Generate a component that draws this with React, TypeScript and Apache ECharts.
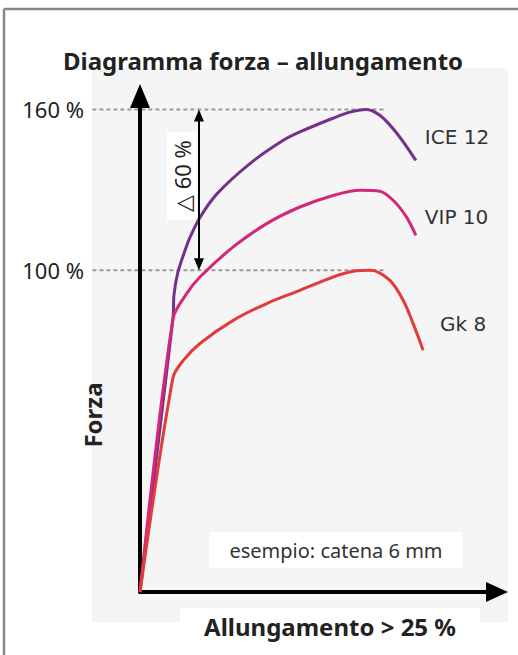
import React, { useEffect, useRef } from "react";
import * as echarts from "echarts";

// ---- data ----
const seriesNames = ["ICE 12", "VIP 10", "Gk 8"];
const seriesColors = ["#74308a", "#d1287a", "#e23b3b"];

const ice12: number[][] = [
  [0, -20], [3.05, 82], [3.14, 90.7], [3.5, 99.2], [4.16, 107.4], [4.62, 112.3],
  [5.54, 119.7], [7.11, 128.5], [10.16, 139.8], [13.21, 148.4], [14.78, 151.6],
  [17.83, 156.7], [19.4, 159], [20.9, 160], [22.17, 157.8], [23.74, 151.1], [25.5, 141],
];
const vip10: number[][] = [
  [0, -20], [3.05, 82], [4.31, 91.3], [5.54, 97.5], [8.62, 108.7], [11.71, 117.4],
  [14.78, 123.6], [17.86, 127.9], [20.33, 129.8], [22.17, 129.5], [23.4, 126.1],
  [24.64, 119.8], [25.5, 113],
];
const gk8: number[][] = [
  [0, -20], [3.05, 60], [4.0, 66.4], [5.54, 72.7], [8.62, 81.3], [11.71, 87.6],
  [14.78, 92.5], [17.86, 97.5], [19.7, 99.6], [21.3, 100], [23.1, 96.2],
  [24.33, 88.8], [25.25, 80.1], [26.17, 70.2],
];

const yTickLabels = [100, 160];
const deltaRange = [100, 160];
const deltaX = 5.45;
const refLineX = [-4.4, 22.8];
const xRange = [0, 33];
const yRange = [-20, 165];

const titleText = "Diagramma forza \u2013 allungamento";
const yName = "Forza";
const xName = "Allungamento > 25 %";
const noteText = "esempio: catena 6 mm";
const deltaText = "\u25B3 60 %";

const FONT = "'Noto Sans', 'DejaVu Sans', sans-serif";
const LABEL_FONT = "'DejaVu Sans', sans-serif";

const GRID = { left: 140, right: 21, top: 96, bottom: 63 };
const HEIGHT = 655;
const ARROW_LEN = 12;

export default function App() {
  const ref = useRef<HTMLDivElement>(null);
  useEffect(() => {
    if (!ref.current) return;
    const chart = echarts.init(ref.current, null, { renderer: "svg" });
    const pxPerUnitY = (HEIGHT - GRID.top - GRID.bottom) / (yRange[1] - yRange[0]);
    const tipShift = ARROW_LEN / 2 / pxPerUnitY;

    const labelOffsets = [[1, -23], [1, -18], [9, -26]];
    const datasets = [ice12, vip10, gk8];

    const series: any[] = datasets.map((d, i) => ({
      type: "line",
      name: seriesNames[i],
      data: d,
      smooth: 0.3,
      showSymbol: false,
      symbol: "none",
      clip: false,
      lineStyle: { color: seriesColors[i], width: 3 },
      z: 3,
      endLabel: {
        show: true,
        formatter: seriesNames[i],
        color: "#333",
        fontFamily: LABEL_FONT,
        fontSize: 20,
        offset: labelOffsets[i],
      },
    }));
    series[1].markLine = {
      silent: true,
      symbol: ["triangle", "triangle"],
      symbolSize: [10, ARROW_LEN],
      label: { show: false },
      lineStyle: { color: "#000", width: 2, type: "solid" },
      data: [[
        { coord: [deltaX, deltaRange[1] - tipShift] },
        { coord: [deltaX, deltaRange[0] + tipShift] },
      ]],
    };

    const staticGraphic: any[] = [
      { id: "bg", type: "rect", z: -10, shape: { x: 92, y: 68, width: 416, height: 554 }, style: { fill: "#f5f5f5" } },
      { id: "fl", type: "line", z: -5, shape: { x1: 4, y1: 9, x2: 4, y2: 660 }, style: { stroke: "#888", lineWidth: 2.5 } },
      { id: "ft", type: "line", z: -5, shape: { x1: 4, y1: 9, x2: 520, y2: 9 }, style: { stroke: "#888", lineWidth: 2.5 } },
      {
        id: "title", type: "text", z: 1, x: 263, y: 60,
        style: { text: titleText, fontSize: 24, fontWeight: "bold", fontFamily: FONT, fill: "#222", align: "center", verticalAlign: "middle" },
      },
      {
        id: "yname", type: "text", z: 1, x: 92, y: 415, rotation: Math.PI / 2,
        style: { text: yName, fontSize: 24, fontWeight: "bold", fontFamily: FONT, fill: "#222", align: "center", verticalAlign: "middle" },
      },
      {
        id: "xname", type: "text", z: 1, x: 330, y: 626,
        style: {
          text: xName, fontSize: 24, fontWeight: "bold", fontFamily: FONT, fill: "#222", align: "center", verticalAlign: "middle",
          backgroundColor: "#fff", padding: [6, 24, 6, 24],
        },
      },
      {
        id: "note", type: "text", z: 1, x: 336, y: 550,
        style: {
          text: noteText, fontSize: 20, fontFamily: FONT, fill: "#333", align: "center", verticalAlign: "middle",
          backgroundColor: "#fff", padding: [8, 20, 8, 20],
        },
      },
      {
        id: "delta", type: "text", z: 1, x: 182, y: 176, rotation: Math.PI / 2,
        style: {
          text: deltaText, fontSize: 22, fontFamily: FONT, fill: "#222", align: "center", verticalAlign: "middle",
          backgroundColor: "#fff", padding: [4, 8, 4, 8],
        },
      },
    ];

    chart.setOption({
      animation: false,
      backgroundColor: "#fff",
      grid: GRID,
      xAxis: {
        type: "value",
        min: xRange[0],
        max: xRange[1],
        axisLine: {
          onZero: false,
          lineStyle: { color: "#000", width: 4 },
          symbol: ["none", "triangle"],
          symbolSize: [20, 22],
        },
        axisTick: { show: false },
        axisLabel: { show: false },
        splitLine: { show: false },
      },
      yAxis: {
        type: "value",
        min: yRange[0],
        max: yRange[1],
        interval: 60,
        axisLine: {
          show: true,
          onZero: false,
          lineStyle: { color: "#000", width: 4 },
          symbol: ["none", "triangle"],
          symbolSize: [20, 24],
        },
        axisTick: { show: false },
        splitLine: { show: false },
        axisLabel: {
          margin: 56,
          fontSize: 22,
          fontFamily: FONT,
          color: "#222",
          formatter: (v: number) => (yTickLabels.includes(v) ? `${v} %` : ""),
        },
      },
      graphic: staticGraphic,
      series,
    });

    // dashed reference lines at the labelled force levels (extend left of the axis)
    const refLines = yTickLabels.map((v, i) => {
      const p0 = chart.convertToPixel({ gridIndex: 0 }, [refLineX[0], v]) as number[];
      const p1 = chart.convertToPixel({ gridIndex: 0 }, [refLineX[1], v]) as number[];
      return {
        id: "ref" + i, type: "line", z: -2,
        shape: { x1: p0[0], y1: p0[1], x2: p1[0], y2: p1[1] },
        style: { stroke: "#9a9a9a", lineWidth: 2, lineDash: [4, 3] },
      };
    });
    chart.setOption({ graphic: [...staticGraphic, ...refLines] });

    return () => chart.dispose();
  }, []);
  return <div ref={ref} style={{ position: "absolute", left: 0, top: 0, width: 518, height: 655 }} />;
}
